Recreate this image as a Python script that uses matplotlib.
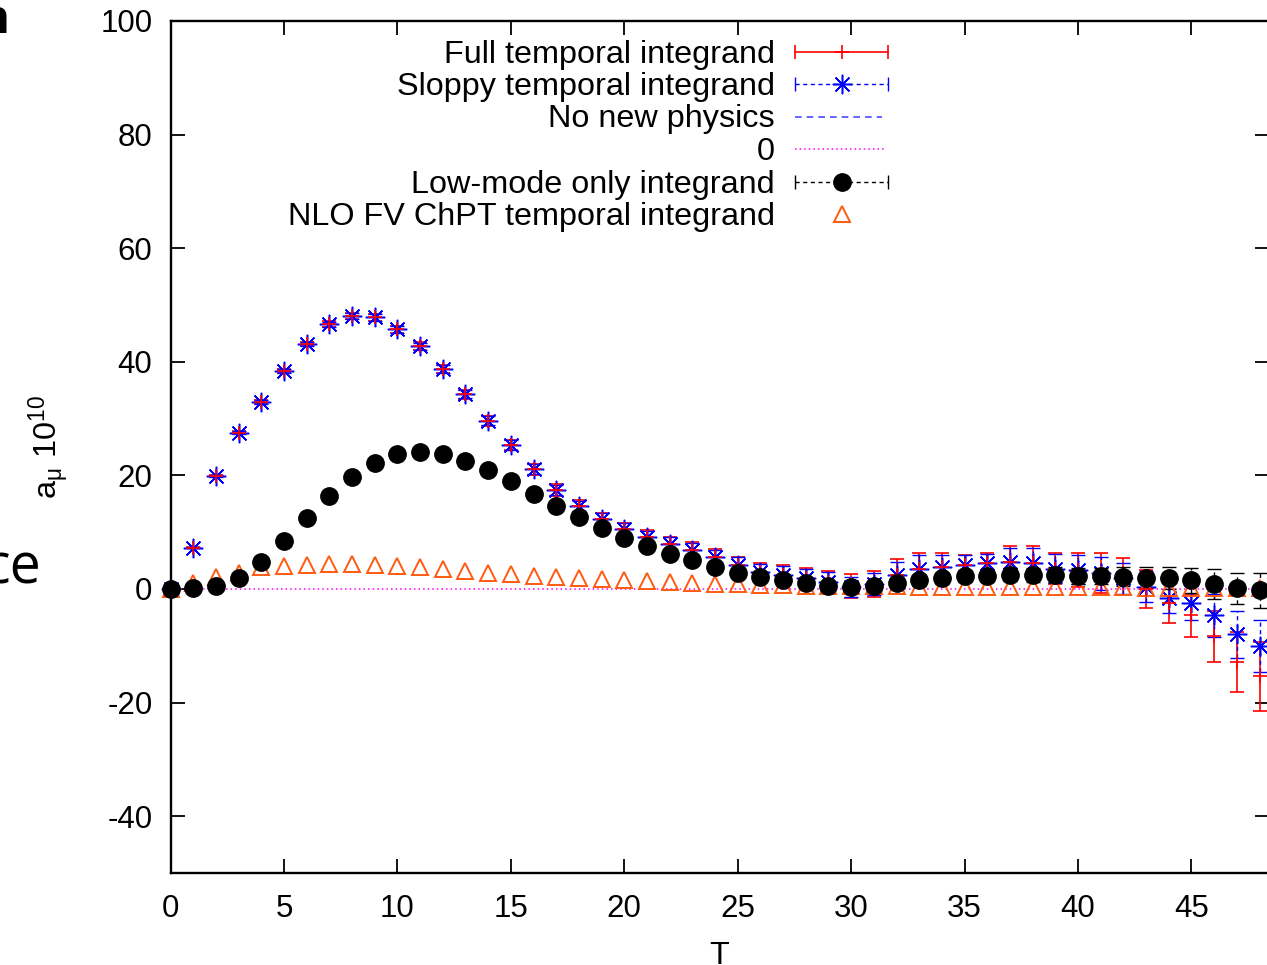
import matplotlib
matplotlib.use("Agg")
import matplotlib.pyplot as plt
import numpy as np

plt.rcParams['font.family'] = ['Liberation Sans', 'DejaVu Sans']
plt.rcParams['mathtext.fontset'] = 'custom'
plt.rcParams['mathtext.rm'] = 'Liberation Sans'
plt.rcParams['mathtext.it'] = 'Liberation Sans:italic'
plt.rcParams['mathtext.default'] = 'regular'
plt.rcParams['axes.unicode_minus'] = False

# temporal integrand data, one value per time slice T
T = np.arange(49)

full = [0.0, 7.3, 19.9, 27.5, 32.9, 38.4, 43.1, 46.6, 48.1, 47.8,
        45.7, 42.7, 38.7, 34.3, 29.6, 25.3, 21.1, 17.4, 14.6, 12.4,
        10.6, 9.2, 8.0, 6.9, 5.6, 4.2, 3.0, 2.5, 1.9, 1.3,
        0.5, 0.9, 2.5, 3.6, 3.9, 4.3, 4.5, 4.8, 4.6, 3.6,
        3.4, 2.8, 2.2, 0.0, -2.5, -4.6, -8.3, -12.8, -15.4]
full_err = [0.0, 0.15, 0.2, 0.25, 0.3, 0.35, 0.4, 0.5, 0.55, 0.6,
            0.65, 0.7, 0.75, 0.8, 0.85, 0.9, 0.95, 1.0, 1.0, 1.05,
            1.1, 1.15, 1.2, 1.3, 1.4, 1.5, 1.6, 1.7, 1.8, 1.9,
            2.1, 2.3, 2.7, 2.8, 2.4, 1.7, 1.9, 2.8, 3.0, 2.8,
            3.0, 3.5, 3.2, 3.4, 3.5, 3.8, 4.5, 5.3, 6.0]

sloppy = [0.0, 7.3, 19.9, 27.5, 32.9, 38.4, 43.1, 46.6, 48.1, 47.8,
          45.7, 42.7, 38.7, 34.3, 29.6, 25.3, 21.1, 17.4, 14.6, 12.4,
          10.6, 9.2, 8.0, 6.9, 5.6, 4.2, 3.0, 2.5, 1.9, 1.3,
          0.4, 0.9, 2.5, 3.6, 3.9, 4.3, 4.5, 4.8, 4.6, 3.6,
          3.4, 2.8, 1.9, 0.4, -1.6, -2.5, -4.6, -8.0, -10.0]
sloppy_err = [0.0, 0.15, 0.2, 0.25, 0.3, 0.35, 0.4, 0.45, 0.5, 0.55,
              0.6, 0.65, 0.7, 0.75, 0.8, 0.85, 0.9, 0.9, 0.95, 1.0,
              1.0, 1.05, 1.1, 1.2, 1.3, 1.35, 1.45, 1.5, 1.6, 1.7,
              1.8, 2.0, 2.3, 2.4, 2.1, 1.6, 1.7, 2.4, 2.6, 2.5,
              2.6, 2.9, 2.7, 2.7, 2.6, 3.0, 3.8, 4.2, 4.6]

lowmode = [0.0, 0.1, 0.5, 2.0, 4.7, 8.4, 12.5, 16.4, 19.8, 22.2,
           23.7, 24.1, 23.7, 22.5, 20.9, 19.0, 16.8, 14.7, 12.7, 10.7,
           8.9, 7.5, 6.2, 5.1, 3.9, 2.9, 2.1, 1.6, 1.0, 0.5,
           0.4, 0.5, 1.0, 1.5, 1.9, 2.3, 2.3, 2.5, 2.5, 2.5,
           2.3, 2.3, 2.2, 2.0, 1.9, 1.5, 0.9, 0.1, -0.2]
lowmode_err = [0.0, 0.05, 0.05, 0.1, 0.1, 0.1, 0.15, 0.15, 0.2, 0.2,
               0.2, 0.25, 0.25, 0.25, 0.3, 0.3, 0.3, 0.35, 0.35, 0.4,
               0.4, 0.4, 0.45, 0.5, 0.5, 0.55, 0.6, 0.65, 0.7, 0.7,
               0.8, 0.85, 0.9, 0.95, 1.0, 1.05, 1.1, 1.15, 1.2, 1.3,
               1.35, 1.4, 1.6, 1.8, 1.9, 2.2, 2.6, 2.7, 3.1]

nlo = [0.0, 1.0, 2.1, 2.8, 3.9, 4.0, 4.3, 4.4, 4.4, 4.2,
       4.1, 3.8, 3.6, 3.2, 2.9, 2.6, 2.3, 2.2, 1.9, 1.8,
       1.6, 1.35, 1.2, 1.0, 0.9, 0.8, 0.7, 0.65, 0.6, 0.55,
       0.5, 0.45, 0.45, 0.4, 0.4, 0.35, 0.35, 0.35, 0.3, 0.3,
       0.3, 0.3, 0.3, 0.25, 0.25, 0.25, 0.25, 0.2, 0.2]

labels = ["Full temporal integrand", "Sloppy temporal integrand",
          "No new physics", "0", "Low-mode only integrand",
          "NLO FV ChPT temporal integrand"]

RED = '#ff0000'
BLUE = '#0000ff'
LIGHTBLUE = '#4a4aff'
MAGENTA = '#ff00ff'
ORANGE = '#ff5a10'
ASTER = (8, 2, 0)
DASH = (0, (3, 2.5))
CAP = 4.8        # matplotlib draws caps 2*capsize long
FS = 23.3

W, H = 1267, 965
fig = plt.figure(figsize=(W / 100, H / 100), dpi=100)
ax = fig.add_axes([170.5 / W, 92 / H, (1268.6 - 170.5) / W, 852 / H])

# full integrand: red, solid bars, plus marker
ln, caps, bars = ax.errorbar(T, full, yerr=full_err, fmt='+', color=RED,
                             ms=10, mew=1.2, elinewidth=1.2, capsize=CAP,
                             capthick=1.2, clip_on=False)
# sloppy integrand: blue asterisks, dashed bars
ln, caps, bars = ax.errorbar(T, sloppy, yerr=sloppy_err, fmt='none',
                             ecolor=BLUE, elinewidth=1.0, capsize=CAP,
                             capthick=1.0, clip_on=False)
bars[0].set_linestyle(DASH)
ax.plot(T, sloppy, ls='none', marker=ASTER, ms=14, mew=1.1, color=BLUE,
        clip_on=False)

ax.axhline(0, color=MAGENTA, ls=(0, (1, 2)), lw=1.1)

# low-mode part: filled black circles, dashed bars
ln, caps, bars = ax.errorbar(T, lowmode, yerr=lowmode_err, fmt='o',
                             color='black', ms=12.5, elinewidth=1.0,
                             capsize=CAP, capthick=1.0, clip_on=False)
bars[0].set_linestyle(DASH)

ax.plot(T, nlo, ls='none', marker='^', ms=11, mfc='none', mec=ORANGE,
        mew=1.4, clip_on=False)

ax.set_xlim(0, 48.4)
ax.set_ylim(-50, 100)
ax.set_xticks(np.arange(0, 50, 5))
ax.set_yticks(np.arange(-40, 101, 20))
ax.tick_params(direction='in', length=10, width=1.3, labelsize=FS - 0.8,
               top=True, right=True)
ax.tick_params(axis='x', pad=15)
ax.tick_params(axis='y', pad=13)
for s in ax.spines.values():
    s.set_linewidth(1.7)

ax.set_xlabel('T', fontsize=FS, labelpad=12)
ax.set_ylabel(r'a$_{\mu}$ 10$^{10}$', fontsize=FS, labelpad=21)

# key, drawn gnuplot-style: text right aligned, sample to its right
tx = (775 - 170.5) / 1098.1
x0 = (795 - 170.5) / 1098.1
x1 = (888 - 170.5) / 1098.1
xc = (x0 + x1) / 2
rows = [(873 - y) / 852 for y in (52, 84, 117, 149, 182, 214)]
kw = dict(transform=ax.transAxes, clip_on=False)
for lab, y in zip(labels, rows):
    ax.text(tx, y - 2.5 / 852, lab, transform=ax.transAxes, ha='right',
            va='center', fontsize=FS)

y = rows[0]
ax.plot([x0, x1], [y, y], color=RED, lw=1.2, **kw)
ax.plot([x0, x1], [y, y], ls='none', marker='|', ms=10, mew=1.2, color=RED, **kw)
ax.plot([xc], [y], marker='+', ms=10, mew=1.2, color=RED, **kw)

y = rows[1]
ax.plot([x0, x1], [y, y], color=BLUE, lw=1.0, ls=DASH, **kw)
ax.plot([x0, x1], [y, y], ls='none', marker='|', ms=10, mew=1.0, color=BLUE, **kw)
ax.plot([xc], [y], marker=ASTER, ms=14, mew=1.1, color=BLUE, **kw)

y = rows[2]
ax.plot([x0, (882 - 170.5) / 1098.1], [y, y], color=LIGHTBLUE, lw=1.2,
        ls=(0, (4, 3)), **kw)

y = rows[3]
ax.plot([x0, (886 - 170.5) / 1098.1], [y, y], color=MAGENTA, lw=1.1,
        ls=(0, (1, 2)), **kw)

y = rows[4]
ax.plot([x0, x1], [y, y], color='black', lw=1.0, ls=DASH, **kw)
ax.plot([x0, x1], [y, y], ls='none', marker='|', ms=10, mew=1.0, color='black', **kw)
ax.plot([xc], [y], marker='o', ms=12.5, color='black', **kw)

y = rows[5]
ax.plot([xc], [y], marker='^', ms=11, mfc='none', mec=ORANGE, mew=1.4, **kw)

# bits of surrounding slide text at the left edge
fig.text(9 / W, 1 - 33 / H, 'n', ha='right', va='baseline', fontsize=34,
         fontweight='bold', family=['Open Sans', 'DejaVu Sans'])
fig.text(42 / W, 1 - 583 / H, 'ce', ha='right', va='baseline', fontsize=40,
         family=['Liberation Sans Narrow', 'Open Sans', 'DejaVu Sans'])

fig.savefig('out.png', dpi=100)
